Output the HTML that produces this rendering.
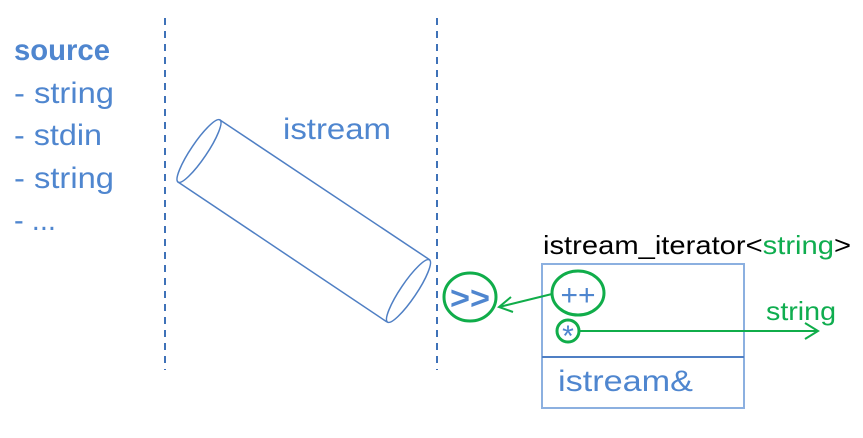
<!DOCTYPE html>
<html><head><style>html,body{margin:0;padding:0;background:#fff;}svg{display:block}</style></head>
<body>
<svg width="863" height="438" viewBox="0 0 863 438" xmlns="http://www.w3.org/2000/svg" font-family="'Liberation Sans', sans-serif">
<g fill="#4f86cf" font-size="30">
<text x="14" y="60" font-weight="bold" textLength="96" lengthAdjust="spacingAndGlyphs">source</text>
<text x="14" y="103" textLength="100" lengthAdjust="spacingAndGlyphs">- string</text>
<text x="14" y="145" textLength="88" lengthAdjust="spacingAndGlyphs">- stdin</text>
<text x="14" y="188" textLength="100" lengthAdjust="spacingAndGlyphs">- string</text>
<text x="14" y="230" textLength="42" lengthAdjust="spacingAndGlyphs">- ...</text>
<text x="283" y="139" textLength="108" lengthAdjust="spacingAndGlyphs">istream</text>
<text x="558" y="391" textLength="135" lengthAdjust="spacingAndGlyphs">istream&amp;</text>
</g>
<g stroke="#3f72b8" stroke-width="2" stroke-dasharray="7,6">
<line x1="165" y1="18" x2="165" y2="370"/>
<line x1="437" y1="18" x2="437" y2="370"/>
</g>
<g stroke="#4f7fc4" stroke-width="1.5" fill="none">
<line x1="220" y1="120" x2="430" y2="260"/>
<line x1="178" y1="182" x2="387" y2="322"/>
<ellipse cx="199" cy="151" rx="37.5" ry="8" transform="rotate(-56 199 151)"/>
<ellipse cx="408.5" cy="291" rx="37.5" ry="8" transform="rotate(-56 408.5 291)"/>
</g>
<rect x="542" y="264" width="202" height="144" fill="none" stroke="#8cb0e0" stroke-width="2"/>
<line x1="542" y1="357" x2="744" y2="357" stroke="#4f7fc4" stroke-width="2"/>
<text x="543" y="254" font-size="26" fill="#000" textLength="308" lengthAdjust="spacingAndGlyphs">istream_iterator&lt;<tspan fill="#0fad4f">string</tspan>&gt;</text>
<text x="766" y="320" font-size="26" fill="#0fad4f" textLength="70" lengthAdjust="spacingAndGlyphs">string</text>
<g stroke="#10ad4a" stroke-width="3" fill="none">
<ellipse cx="470" cy="297" rx="26" ry="24"/>
<ellipse cx="578" cy="293" rx="26" ry="22"/>
<circle cx="568" cy="331" r="11"/>
</g>
<g stroke="#10ad4a" stroke-width="2" fill="none">
<line x1="552" y1="294" x2="499" y2="307"/>
<polyline points="511,297 499,307 513,312"/>
<line x1="579" y1="331" x2="818" y2="331"/>
<polyline points="805,323 818,331 805,339"/>
</g>
<text x="470" y="309" font-size="32" font-weight="bold" fill="#4f86cf" text-anchor="middle" textLength="40" lengthAdjust="spacingAndGlyphs">&gt;&gt;</text>
<text x="578" y="305" font-size="30" fill="#4f86cf" text-anchor="middle">++</text>
<text x="568" y="346" font-size="30" fill="#4f86cf" text-anchor="middle">*</text>
</svg>
</body></html>
